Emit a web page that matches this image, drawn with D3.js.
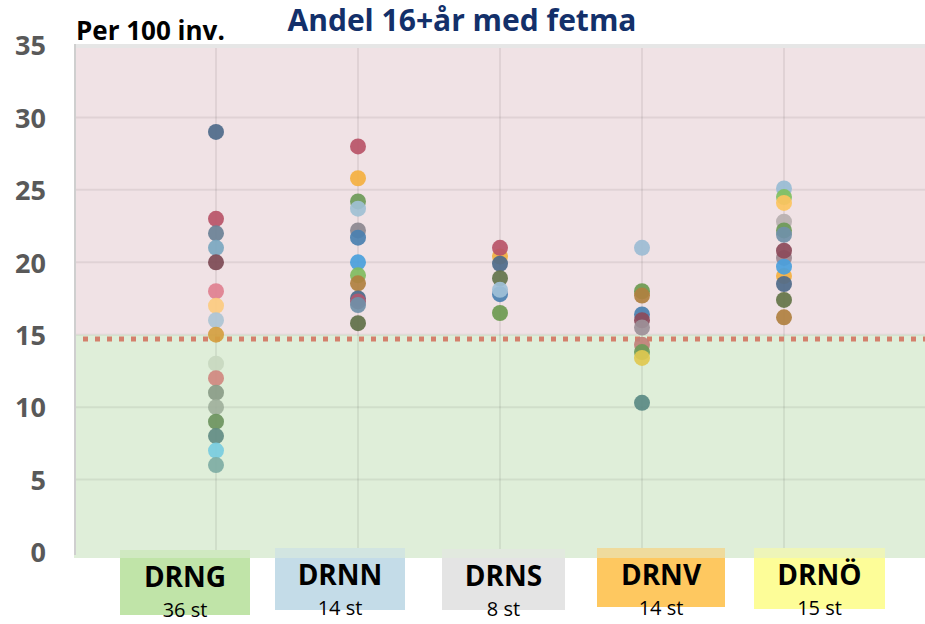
<!DOCTYPE html>
<html>
<head>
<meta charset="utf-8">
<script src="https://cdn.jsdelivr.net/npm/d3@7"></script>
<style>
  html, body { margin: 0; padding: 0; background: #fff; }
  svg { display: block; font-family: "Open Sans", sans-serif; }
</style>
</head>
<body>
<svg id="chart" width="925" height="624"></svg>
<script>
// regions and counts
const regions = ['DRNG', 'DRNN', 'DRNS', 'DRNV', 'DRNÖ'];
const counts = ['36 st', '14 st', '8 st', '14 st', '15 st'];
const yTicks = [0, 5, 10, 15, 20, 25, 30, 35];
const threshold = 15;
const targetLine = 14.7;

// per 100 inv (overlapping dots are hidden)
const drng = [29, 23, 22, 21, 20, 18, 17, 16, 15, 13, 12, 11, 10, 9, 8, 7, 6];
const drnn = [28, 25.8, 24.2, 23.7, 22.2, 21.7, 20, 19.1, 18.55, 17.5, 17.3, 17.05, 15.8];
const drns = [20.4, 21, 19.9, 18.9, 17.8, 18.1, 16.5];
const drnv = [21, 18, 17.7, 16.4, 16, 15.5, 14.3, 13.8, 13.4, 10.3];
const drno = [25.1, 24.5, 24.1, 22.8, 22.2, 21.9, 20.3, 20.8, 19.05, 19.7, 18.5, 17.4, 16.2];

// dot colours, same order as the values
const drngColors = ['#4e6a8a', '#b85468', '#6a8196', '#7ba7c0', '#7d4a55', '#e08090', '#fccb80', '#adc4d4',
  '#d4a040', '#c8d8c0', '#d08880', '#8a9c88', '#a0b09c', '#6c9460', '#628c84', '#78cce0', '#7eaca4'];
const drnnColors = ['#b85468', '#f4b040', '#6c9a58', '#a0c0d4', '#8c8890', '#4a80b0', '#4aa0dc', '#80bc60',
  '#b08040', '#4a6a8a', '#b05870', '#7090a8', '#607048'];
const drnsColors = ['#f0b040', '#b85468', '#4e6a8a', '#64744c', '#4a80b0', '#a0c0d8', '#6c9a50'];
const drnvColors = ['#9cbcd4', '#6c9a50', '#b08040', '#4a80b0', '#8c4a5a', '#9c9098', '#c08078', '#6c9a58',
  '#e0c850', '#5a8a84'];
const drnoColors = ['#98bcd4', '#80c060', '#fcc460', '#b8b0b0', '#6c9a58', '#7090a8', '#9c8890', '#8c4a5a',
  '#f4b040', '#4aa0dc', '#4e6a8a', '#647448', '#b08040'];

const series = [drng, drnn, drns, drnv, drno];
const seriesColors = [drngColors, drnnColors, drnsColors, drnvColors, drnoColors];

// label boxes under the plot
const boxFill = ['#c0e4a8', '#c4dce8', '#e4e4e4', '#fec860', '#fdfd98'];
const boxLayout = [
  { x: 120, w: 130, top: 550, bottom: 615 },
  { x: 275, w: 130, top: 548, bottom: 610 },
  { x: 442, w: 123, top: 549, bottom: 610 },
  { x: 597, w: 128, top: 548, bottom: 607 },
  { x: 754, w: 131, top: 548, bottom: 609 }
];

const svg = d3.select('#chart');
const plot = { left: 74, right: 926, top: 45, bottom: 552 };

const x = d3.scaleLinear().domain([0, 6]).range([plot.left, plot.right]);
const y = d3.scaleLinear().domain([0, 35]).range([plot.bottom, plot.top]);

// background bands
svg.append('rect')
  .attr('x', plot.left).attr('y', plot.top - 1)
  .attr('width', plot.right - plot.left).attr('height', 4)
  .attr('fill', '#e6e6e6');
svg.append('rect')
  .attr('x', plot.left).attr('y', y(35) + 3)
  .attr('width', plot.right - plot.left).attr('height', y(threshold) - y(35) - 3)
  .attr('fill', '#f0e2e5');
svg.append('rect')
  .attr('x', plot.left).attr('y', y(threshold))
  .attr('width', plot.right - plot.left).attr('height', y(0) - y(threshold) + 6)
  .attr('fill', '#dfeed9');

// grid
svg.append('g')
  .selectAll('line')
  .data(yTicks.filter(d => d > 0 && d < 35))
  .join('line')
  .attr('x1', plot.left).attr('x2', plot.right)
  .attr('y1', d => y(d)).attr('y2', d => y(d))
  .attr('stroke', 'rgba(0,0,0,0.065)')
  .attr('stroke-width', 2);
svg.append('g')
  .selectAll('line')
  .data(d3.range(1, 6))
  .join('line')
  .attr('x1', d => x(d)).attr('x2', d => x(d))
  .attr('y1', plot.top + 3).attr('y2', plot.bottom)
  .attr('stroke', 'rgba(0,0,0,0.065)')
  .attr('stroke-width', 2);
svg.append('line')
  .attr('x1', plot.left + 1).attr('x2', plot.left + 1)
  .attr('y1', plot.top - 1).attr('y2', plot.bottom + 3)
  .attr('stroke', '#cfcfcf')
  .attr('stroke-width', 2);

// y axis labels
const yAxis = svg.append('g')
  .attr('transform', 'translate(46,0)')
  .call(d3.axisLeft(y).tickValues(yTicks).tickSize(0).tickPadding(0));
yAxis.select('.domain').remove();
yAxis.selectAll('text')
  .attr('fill', '#595959')
  .style('font-size', '27px')
  .style('font-weight', 'bold')
  .style('font-family', '"Open Sans", sans-serif')
  .attr('dy', '0.36em');

// target line
svg.append('line')
  .attr('x1', plot.left + 9).attr('x2', plot.right)
  .attr('y1', y(targetLine)).attr('y2', y(targetLine))
  .attr('stroke', '#d4806c')
  .attr('stroke-width', 5)
  .attr('stroke-dasharray', '5 7');

// dots
series.forEach((vals, i) => {
  svg.append('g')
    .selectAll('circle')
    .data(vals)
    .join('circle')
    .attr('cx', x(i + 1))
    .attr('cy', d => y(d))
    .attr('r', 8)
    .attr('fill', (d, j) => seriesColors[i][j])
    .attr('fill-opacity', 0.92);
});

// category boxes
const boxes = svg.append('g')
  .selectAll('g')
  .data(regions)
  .join('g');
boxes.append('rect')
  .attr('x', (d, i) => boxLayout[i].x)
  .attr('y', (d, i) => boxLayout[i].top)
  .attr('width', (d, i) => boxLayout[i].w)
  .attr('height', (d, i) => boxLayout[i].bottom - boxLayout[i].top)
  .attr('fill', (d, i) => boxFill[i]);
boxes.append('rect')
  .attr('x', (d, i) => boxLayout[i].x)
  .attr('y', (d, i) => boxLayout[i].top)
  .attr('width', (d, i) => boxLayout[i].w)
  .attr('height', (d, i) => plot.bottom + 6 - boxLayout[i].top)
  .attr('fill', '#dfeed9')
  .attr('fill-opacity', 0.5);
boxes.append('text')
  .attr('x', (d, i) => boxLayout[i].x + boxLayout[i].w / 2)
  .attr('y', (d, i) => boxLayout[i].top + 37)
  .attr('text-anchor', 'middle')
  .style('font-size', '28px')
  .style('font-weight', 'bold')
  .attr('fill', '#000')
  .text(d => d);
boxes.append('text')
  .attr('x', (d, i) => boxLayout[i].x + boxLayout[i].w / 2)
  .attr('y', (d, i) => boxLayout[i].top + 67)
  .attr('text-anchor', 'middle')
  .style('font-size', '20px')
  .attr('fill', '#000')
  .text((d, i) => counts[i]);

// titles
svg.append('text')
  .attr('x', 76).attr('y', 40)
  .style('font-size', '26px')
  .style('font-weight', 'bold')
  .attr('fill', '#000')
  .text('Per 100 inv.');
svg.append('text')
  .attr('x', 462).attr('y', 31)
  .attr('text-anchor', 'middle')
  .style('font-size', '30px')
  .style('font-weight', 'bold')
  .attr('fill', '#13306a')
  .text('Andel 16+år med fetma');
</script>
</body>
</html>
